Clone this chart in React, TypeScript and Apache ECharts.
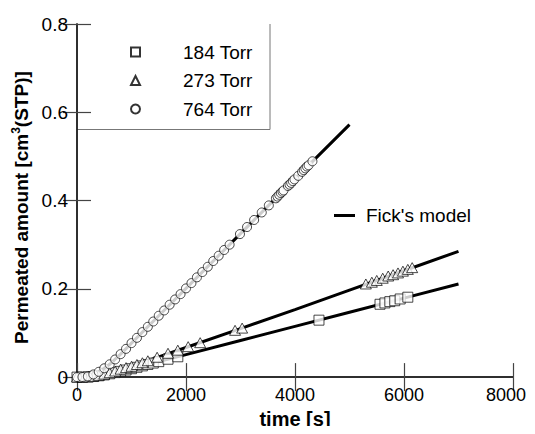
import React, { useEffect, useRef } from "react";
import * as echarts from "echarts";

const xTicks = [0, 2000, 4000, 6000, 8000];
const yTicks = [0, 0.2, 0.4, 0.6, 0.8];

const series184: [number, number][] = [
  [0, 0], [100, 0.0001], [200, 0.0004], [300, 0.0013], [400, 0.003], [500, 0.005],
  [600, 0.0075], [700, 0.0102], [800, 0.013], [900, 0.016], [1000, 0.019], [1100, 0.0222],
  [1200, 0.0254], [1300, 0.0286], [1400, 0.0318], [1500, 0.035], [1670, 0.0405], [1850, 0.046],
  [4440, 0.129], [5560, 0.165], [5650, 0.168], [5740, 0.171], [5830, 0.173], [5930, 0.177], [6070, 0.181],
];

const series273: [number, number][] = [
  [0, 0], [100, 0.0001], [200, 0.0005], [300, 0.0018], [400, 0.004], [500, 0.0068],
  [600, 0.01], [700, 0.0138], [800, 0.018], [900, 0.0215], [1000, 0.0245], [1100, 0.0285],
  [1200, 0.0325], [1300, 0.037], [1470, 0.045], [1670, 0.054], [1850, 0.061], [2040, 0.069],
  [2260, 0.078], [2900, 0.106], [3030, 0.111],
  [5300, 0.211], [5410, 0.215], [5500, 0.219], [5610, 0.224], [5710, 0.229], [5800, 0.232],
  [5890, 0.236], [5980, 0.24], [6070, 0.244], [6150, 0.248],
];

const series764: [number, number][] = [
  [0, 0], [100, 0.0002], [200, 0.0015], [300, 0.006], [400, 0.012], [500, 0.02],
  [600, 0.029], [700, 0.04], [800, 0.052], [900, 0.064], [1000, 0.077], [1100, 0.089],
  [1200, 0.102], [1300, 0.114], [1400, 0.126], [1500, 0.139], [1600, 0.151], [1700, 0.164],
  [1800, 0.176], [1900, 0.188], [2000, 0.201], [2100, 0.213], [2200, 0.226], [2300, 0.238],
  [2400, 0.25], [2500, 0.263], [2600, 0.275], [2700, 0.288], [2800, 0.3],
  [2990, 0.324], [3120, 0.34], [3250, 0.356], [3390, 0.373], [3520, 0.389],
  [3650, 0.405], [3680, 0.409], [3710, 0.413], [3740, 0.417], [3770, 0.42], [3790, 0.423],
  [3870, 0.433], [3900, 0.436], [3930, 0.44], [3960, 0.444], [3990, 0.448], [4060, 0.456],
  [4130, 0.465], [4160, 0.469], [4190, 0.473], [4220, 0.477], [4250, 0.48], [4320, 0.489],
];

const fick184: [number, number][] = [
  [0, 0], [200, 0.0003], [400, 0.003], [600, 0.0075], [800, 0.013], [1000, 0.019],
  [1500, 0.035], [2000, 0.051], [3000, 0.083], [4000, 0.115], [5000, 0.147], [6000, 0.179], [7000, 0.211],
];
const fick273: [number, number][] = [
  [0, 0], [200, 0.0005], [400, 0.004], [600, 0.01], [800, 0.018], [1000, 0.0245],
  [1500, 0.046], [2000, 0.067], [3000, 0.11], [4000, 0.153], [5000, 0.197], [6000, 0.241], [7000, 0.285],
];
const fick764: [number, number][] = [
  [0, 0], [100, 0.0002], [200, 0.0015], [300, 0.006], [400, 0.012], [500, 0.02], [600, 0.029],
  [800, 0.052], [1000, 0.077], [1500, 0.139], [2000, 0.201], [3000, 0.325], [4000, 0.449], [5000, 0.572],
];

const FONT = "Arial";

export default function App() {
  const ref = useRef<HTMLDivElement>(null);
  useEffect(() => {
    if (!ref.current) return;
    const chart = echarts.init(ref.current, undefined, { renderer: "svg" });
    const markerStyle = { color: "#fff", borderColor: "#000", borderWidth: 0.9 };
    const axisLine = { show: true, lineStyle: { color: "#222", width: 1.5 } };
    const tick = { show: true, inside: true, length: 14, lineStyle: { color: "#444", width: 1.2 } };
    const fickLine = (data: [number, number][]) => ({
      type: "line",
      name: "Fick's model",
      data,
      showSymbol: false,
      symbol: "none",
      smooth: false,
      lineStyle: { color: "#000", width: 3 },
      itemStyle: { color: "#000" },
      z: 2,
    });
    const xMax = xTicks[xTicks.length - 1];
    chart.setOption({
      animation: false,
      grid: { left: 77, right: 22, top: 24, bottom: 54 },
      xAxis: [
        {
          type: "value",
          min: xTicks[0],
          max: xMax,
          interval: 2000,
          name: "time [s]",
          nameLocation: "middle",
          nameGap: 27,
          nameTextStyle: { fontFamily: FONT, fontSize: 20, fontWeight: "bold", color: "#000" },
          axisLine,
          axisTick: tick,
          splitLine: { show: false },
          axisLabel: {
            fontFamily: FONT,
            fontSize: 18,
            color: "#000",
            margin: 9,
            formatter: (v: number) => (v === xMax ? `{last|${v}}` : String(v)),
            rich: { last: { fontFamily: FONT, fontSize: 18, color: "#000", padding: [0, 14, 0, 0] } },
          },
        },
        {
          type: "value",
          position: "top",
          min: xTicks[0],
          max: xMax,
          interval: 2000,
          axisLine,
          axisTick: tick,
          splitLine: { show: false },
          axisLabel: { show: false },
        },
      ],
      yAxis: [
        {
          type: "value",
          min: yTicks[0],
          max: yTicks[yTicks.length - 1],
          interval: 0.2,
          name: "Permeated amount [cm{sup|3}(STP)]",
          nameLocation: "middle",
          nameGap: 44,
          nameTextStyle: {
            fontFamily: FONT,
            fontSize: 19,
            fontWeight: "bold",
            color: "#000",
            padding: [0, 14, 0, 0],
            rich: {
              sup: { fontFamily: FONT, fontSize: 12, fontWeight: "bold", color: "#000", padding: [0, 0, 10, 0] },
            },
          },
          axisLine,
          axisTick: tick,
          splitLine: { show: false },
          axisLabel: {
            fontFamily: FONT,
            fontSize: 19,
            color: "#000",
            margin: 9,
            formatter: (v: number) => (v === 0 ? "0" : v.toFixed(1)),
          },
        },
        {
          type: "value",
          position: "right",
          min: yTicks[0],
          max: yTicks[yTicks.length - 1],
          interval: 0.2,
          axisLine,
          axisTick: tick,
          splitLine: { show: false },
          axisLabel: { show: false },
        },
      ],
      legend: [
        {
          data: ["184 Torr", "273 Torr", "764 Torr"],
          orient: "vertical",
          left: 130,
          top: 42,
          padding: 0,
          itemWidth: 9,
          itemHeight: 9,
          itemGap: 8.5,
          selectedMode: false,
          textStyle: { fontFamily: FONT, fontSize: 19, color: "#000", padding: [0, 0, 0, 38], lineHeight: 20 },
        },
        {
          data: [{ name: "Fick's model", icon: "rect" }],
          left: 334,
          top: 206,
          padding: 0,
          itemWidth: 21,
          itemHeight: 3,
          selectedMode: false,
          textStyle: { fontFamily: FONT, fontSize: 19, color: "#000", padding: [0, 0, 0, 6] },
        },
      ],
      graphic: [
        {
          type: "polyline",
          shape: { points: [[270, 24], [270, 129.5], [77, 129.5]] },
          style: { stroke: "#777", lineWidth: 1, fill: "none" },
          silent: true,
        },
      ],
      series: [
        fickLine(fick184),
        fickLine(fick273),
        fickLine(fick764),
        {
          type: "scatter",
          name: "184 Torr",
          data: series184,
          symbol: "rect",
          symbolSize: 10,
          itemStyle: markerStyle,
          z: 5,
        },
        {
          type: "scatter",
          name: "273 Torr",
          data: series273,
          symbol: "triangle",
          symbolSize: [11, 10],
          itemStyle: markerStyle,
          z: 5,
        },
        {
          type: "scatter",
          name: "764 Torr",
          data: series764,
          symbol: "circle",
          symbolSize: 9,
          itemStyle: markerStyle,
          z: 5,
        },
      ],
    });
    return () => chart.dispose();
  }, []);
  return <div ref={ref} style={{ width: 535, height: 434, margin: -8 }} />;
}
